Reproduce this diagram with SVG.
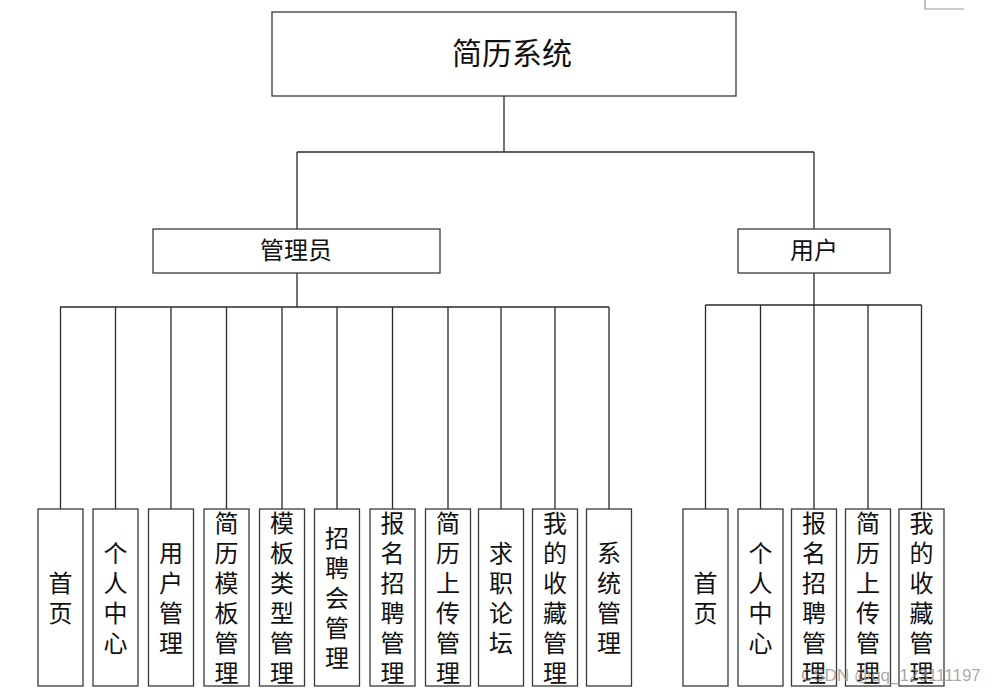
<svg xmlns="http://www.w3.org/2000/svg" width="992" height="693" viewBox="0 0 992 693">
<style>
.box{fill:#fff;stroke:#3a3a3a;stroke-width:1.3}
.ln{stroke:#2a2a2a;stroke-width:1.3;fill:none}
.t{font-family:"Noto Sans CJK SC","Noto Sans CJK JP",sans-serif;fill:#111;text-anchor:middle}
.v{font-size:24px}
</style>
<rect width="992" height="693" fill="#fff"/>
<path d="M925 0V9H964" stroke="#999" stroke-width="1.2" fill="none"/>
<g id="connectors">
<path class="ln" d="M504 96V152M297 152H814M297 152V229M814 152V229"/>
<path class="ln" d="M297 273V307M60 307H609M60.5 307V509M115.5 307V509M171 307V509M226.5 307V509M282 307V509M337 307V509M392.5 307V509M448 307V509M501 307V509M555 307V509M609 307V509"/>
<path class="ln" d="M814 273V305M705.5 305H921.5M705.5 305V509M760.5 305V509M814 305V509M868 305V509M921.5 305V509"/>
</g>
<g id="root"><rect class="box" x="272" y="12" width="464" height="84"/><text class="t" x="512" y="64" font-size="30">简历系统</text></g>
<g id="admin"><rect class="box" x="153" y="229" width="287" height="44"/><text class="t" x="296" y="259" font-size="24">管理员</text></g>
<g id="user"><rect class="box" x="738" y="229" width="152" height="44"/><text class="t" x="814" y="259" font-size="24">用户</text></g>
<g id="a1"><rect class="box" x="38" y="509" width="45" height="177"/><text class="t v" x="60.5" y="591.5"><tspan x="60.5">首</tspan><tspan x="60.5" dy="30">页</tspan></text></g>
<g id="a2"><rect class="box" x="93" y="509" width="45" height="177"/><text class="t v" x="115.5" y="561.5"><tspan x="115.5">个</tspan><tspan x="115.5" dy="30">人</tspan><tspan x="115.5" dy="30">中</tspan><tspan x="115.5" dy="30">心</tspan></text></g>
<g id="a3"><rect class="box" x="148.5" y="509" width="45" height="177"/><text class="t v" x="171" y="561.5"><tspan x="171">用</tspan><tspan x="171" dy="30">户</tspan><tspan x="171" dy="30">管</tspan><tspan x="171" dy="30">理</tspan></text></g>
<g id="a4"><rect class="box" x="204" y="509" width="45" height="177"/><text class="t v" x="226.5" y="531.5"><tspan x="226.5">简</tspan><tspan x="226.5" dy="30">历</tspan><tspan x="226.5" dy="30">模</tspan><tspan x="226.5" dy="30">板</tspan><tspan x="226.5" dy="30">管</tspan><tspan x="226.5" dy="30">理</tspan></text></g>
<g id="a5"><rect class="box" x="259.5" y="509" width="45" height="177"/><text class="t v" x="282" y="531.5"><tspan x="282">模</tspan><tspan x="282" dy="30">板</tspan><tspan x="282" dy="30">类</tspan><tspan x="282" dy="30">型</tspan><tspan x="282" dy="30">管</tspan><tspan x="282" dy="30">理</tspan></text></g>
<g id="a6"><rect class="box" x="314.5" y="509" width="45" height="177"/><text class="t v" x="337" y="546.5"><tspan x="337">招</tspan><tspan x="337" dy="30">聘</tspan><tspan x="337" dy="30">会</tspan><tspan x="337" dy="30">管</tspan><tspan x="337" dy="30">理</tspan></text></g>
<g id="a7"><rect class="box" x="370" y="509" width="45" height="177"/><text class="t v" x="392.5" y="531.5"><tspan x="392.5">报</tspan><tspan x="392.5" dy="30">名</tspan><tspan x="392.5" dy="30">招</tspan><tspan x="392.5" dy="30">聘</tspan><tspan x="392.5" dy="30">管</tspan><tspan x="392.5" dy="30">理</tspan></text></g>
<g id="a8"><rect class="box" x="425.5" y="509" width="45" height="177"/><text class="t v" x="448" y="531.5"><tspan x="448">简</tspan><tspan x="448" dy="30">历</tspan><tspan x="448" dy="30">上</tspan><tspan x="448" dy="30">传</tspan><tspan x="448" dy="30">管</tspan><tspan x="448" dy="30">理</tspan></text></g>
<g id="a9"><rect class="box" x="478.5" y="509" width="45" height="177"/><text class="t v" x="501" y="561.5"><tspan x="501">求</tspan><tspan x="501" dy="30">职</tspan><tspan x="501" dy="30">论</tspan><tspan x="501" dy="30">坛</tspan></text></g>
<g id="a10"><rect class="box" x="532.5" y="509" width="45" height="177"/><text class="t v" x="555" y="531.5"><tspan x="555">我</tspan><tspan x="555" dy="30">的</tspan><tspan x="555" dy="30">收</tspan><tspan x="555" dy="30">藏</tspan><tspan x="555" dy="30">管</tspan><tspan x="555" dy="30">理</tspan></text></g>
<g id="a11"><rect class="box" x="586.5" y="509" width="45" height="177"/><text class="t v" x="609" y="561.5"><tspan x="609">系</tspan><tspan x="609" dy="30">统</tspan><tspan x="609" dy="30">管</tspan><tspan x="609" dy="30">理</tspan></text></g>
<g id="u1"><rect class="box" x="683" y="509" width="45" height="177"/><text class="t v" x="705.5" y="591.5"><tspan x="705.5">首</tspan><tspan x="705.5" dy="30">页</tspan></text></g>
<g id="u2"><rect class="box" x="738" y="509" width="45" height="177"/><text class="t v" x="760.5" y="561.5"><tspan x="760.5">个</tspan><tspan x="760.5" dy="30">人</tspan><tspan x="760.5" dy="30">中</tspan><tspan x="760.5" dy="30">心</tspan></text></g>
<g id="u3"><rect class="box" x="791.5" y="509" width="45" height="177"/><text class="t v" x="814" y="531.5"><tspan x="814">报</tspan><tspan x="814" dy="30">名</tspan><tspan x="814" dy="30">招</tspan><tspan x="814" dy="30">聘</tspan><tspan x="814" dy="30">管</tspan><tspan x="814" dy="30">理</tspan></text></g>
<g id="u4"><rect class="box" x="845.5" y="509" width="45" height="177"/><text class="t v" x="868" y="531.5"><tspan x="868">简</tspan><tspan x="868" dy="30">历</tspan><tspan x="868" dy="30">上</tspan><tspan x="868" dy="30">传</tspan><tspan x="868" dy="30">管</tspan><tspan x="868" dy="30">理</tspan></text></g>
<g id="u5"><rect class="box" x="899" y="509" width="45" height="177"/><text class="t v" x="921.5" y="531.5"><tspan x="921.5">我</tspan><tspan x="921.5" dy="30">的</tspan><tspan x="921.5" dy="30">收</tspan><tspan x="921.5" dy="30">藏</tspan><tspan x="921.5" dy="30">管</tspan><tspan x="921.5" dy="30">理</tspan></text></g>
<text x="801" y="681" font-family="'Liberation Sans',sans-serif" font-size="17" fill="#9a9a9a" fill-opacity="0.85">CSDN @qq_123111197</text>
</svg>
